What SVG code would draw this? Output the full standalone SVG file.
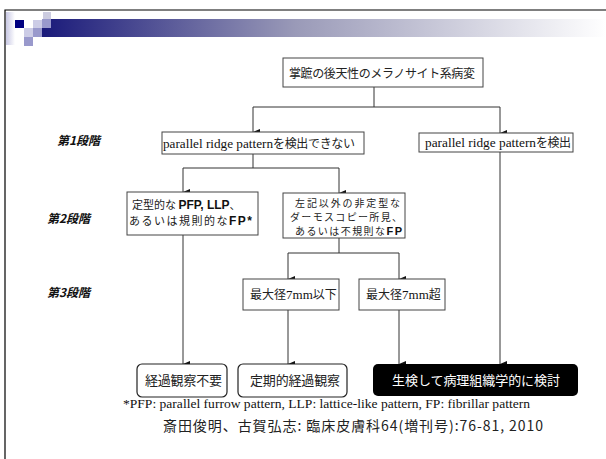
<svg xmlns="http://www.w3.org/2000/svg" width="606" height="459" viewBox="0 0 606 459">
<defs>
<linearGradient id="bar" x1="0" y1="0" x2="1" y2="0">
<stop offset="0" stop-color="#1a1a7a"/>
<stop offset="0.45" stop-color="#9a9ab8"/>
<stop offset="1" stop-color="#ffffff"/>
</linearGradient>
<linearGradient id="strip" x1="0" y1="0" x2="1" y2="0">
<stop offset="0" stop-color="#c8c8e4"/>
<stop offset="1" stop-color="#ffffff"/>
</linearGradient>
<marker id="ah" viewBox="0 0 6 7" refX="3" refY="7" markerWidth="6" markerHeight="7" orient="auto-start-reverse" markerUnits="userSpaceOnUse">
<path d="M0,0 L6,0 L3,7 Z" fill="#111"/>
</marker>
</defs>
<style>
.box{fill:#fff;stroke:#444;stroke-width:1}
.rbox{fill:#fff;stroke:#222;stroke-width:1.2}
.ln{fill:none;stroke:#333;stroke-width:1}
.arr{fill:none;stroke:#333;stroke-width:1;marker-end:url(#ah)}
.jp{font-family:"Noto Sans CJK JP","Liberation Sans",sans-serif;fill:#222}
.se{font-family:"Liberation Serif","Noto Sans CJK JP",serif;fill:#111}
.sa{font-family:"Liberation Sans","Noto Sans CJK JP",sans-serif;fill:#111}
.stg{font-family:"Noto Sans CJK JP",sans-serif;font-weight:bold;font-style:italic;font-size:12px;fill:#111}
</style>
<rect width="606" height="459" fill="#fff"/>
<g id="header">
<rect x="6" y="12" width="9" height="33" fill="url(#strip)"/>
<rect x="42" y="19" width="564" height="18" fill="url(#bar)"/>
<rect x="15" y="20" width="9" height="8" fill="#000080"/>
<rect x="33" y="20" width="9" height="8" fill="#ccccE6"/>
<rect x="43" y="12" width="8" height="7" fill="#ccccE0"/>
<rect x="42" y="19" width="9" height="9" fill="#9999cc"/>
<rect x="24" y="28" width="9" height="9" fill="#ccccE6"/>
<rect x="33" y="28" width="9" height="9" fill="#9999cc"/>
<rect x="24" y="37" width="9" height="9" fill="#9999cc"/>
<path d="M5,459 V10 H606" fill="none" stroke="#000" stroke-width="1.2"/>
</g>
<g id="stage-labels">
<text class="stg" x="57" y="145">第1段階</text>
<text class="stg" x="47" y="223">第2段階</text>
<text class="stg" x="47" y="297">第3段階</text>
</g>
<g id="connectors">
<path class="ln" d="M374,87 V107 M253,107 H500"/>
<path class="arr" d="M253,107 V132"/>
<path class="arr" d="M500,107 V133"/>
<path class="ln" d="M253,154 V168 M183,168 H339"/>
<path class="arr" d="M183,168 V192"/>
<path class="arr" d="M339,168 V193"/>
<path class="arr" d="M183,235 V364"/>
<path class="ln" d="M339,238 V253 M288,253 H399"/>
<path class="arr" d="M288,253 V279"/>
<path class="arr" d="M399,253 V279"/>
<path class="arr" d="M288,310 V364"/>
<path class="arr" d="M399,310 V364"/>
<path class="arr" d="M500,152 V364"/>
</g>
<g id="n-top">
<rect class="box" x="283" y="58" width="200" height="29"/>
<text class="jp" x="289" y="78" font-size="12" textLength="186" lengthAdjust="spacing">掌蹠の後天性のメラノサイト系病変</text>
</g>
<g id="n-notdetect">
<rect class="box" x="162" y="132" width="202" height="22"/>
<text class="se" x="163" y="148" font-size="13" textLength="110" lengthAdjust="spacingAndGlyphs">parallel ridge pattern</text>
<text class="jp" x="273" y="148" font-size="12" textLength="82" lengthAdjust="spacing">を検出できない</text>
</g>
<g id="n-detect">
<rect class="box" x="419" y="133" width="154" height="19"/>
<text class="se" x="425" y="147" font-size="13" textLength="111" lengthAdjust="spacingAndGlyphs">parallel ridge pattern</text>
<text class="jp" x="536" y="147" font-size="12" textLength="35" lengthAdjust="spacing">を検出</text>
</g>
<g id="n-typical">
<rect class="box" x="127" y="192" width="131" height="43"/>
<text class="jp" x="132" y="209" font-size="11">定型的な <tspan class="sa" font-weight="bold" font-size="12">PFP, LLP</tspan>、</text>
<text class="jp" x="129" y="225" font-size="11" textLength="123" lengthAdjust="spacing">あるいは規則的な<tspan class="sa" font-weight="bold" font-size="12">FP*</tspan></text>
</g>
<g id="n-atypical">
<rect class="box" x="283" y="193" width="122" height="45"/>
<text class="jp" x="295" y="207" font-size="10" textLength="105" lengthAdjust="spacing">左記以外の非定型な</text>
<text class="jp" x="290" y="221" font-size="10" textLength="112" lengthAdjust="spacing">ダーモスコピー所見、</text>
<text class="jp" x="295" y="235" font-size="10" textLength="107" lengthAdjust="spacing">あるいは不規則な<tspan class="sa" font-weight="bold" font-size="11">FP</tspan></text>
</g>
<g id="n-le7">
<rect class="box" x="243" y="279" width="96" height="31"/>
<text class="jp" x="250" y="299" font-size="12">最大径<tspan class="se" font-size="13">7mm</tspan>以下</text>
</g>
<g id="n-gt7">
<rect class="box" x="359" y="279" width="86" height="31"/>
<text class="jp" x="366" y="299" font-size="12">最大径<tspan class="se" font-size="13">7mm</tspan>超</text>
</g>
<g id="n-nofollow">
<rect class="rbox" x="137" y="364" width="90" height="33" rx="5"/>
<text class="jp" x="145" y="385" font-size="13" textLength="77" lengthAdjust="spacing">経過観察不要</text>
</g>
<g id="n-follow">
<rect class="rbox" x="238" y="364" width="109" height="33" rx="5"/>
<text class="jp" x="250" y="385" font-size="13" textLength="90" lengthAdjust="spacing">定期的経過観察</text>
</g>
<g id="n-biopsy">
<rect x="373" y="364" width="205" height="32" rx="5" fill="#000"/>
<text class="jp" x="392" y="385" font-size="13" textLength="168" lengthAdjust="spacing" style="fill:#fff">生検して病理組織学的に検討</text>
</g>
<g id="footnote">
<text class="se" x="123" y="408" font-size="13" textLength="407" lengthAdjust="spacingAndGlyphs">*PFP: parallel furrow pattern, LLP: lattice-like pattern, FP: fibrillar pattern</text>
<text class="jp" x="163" y="431" font-size="14" textLength="380" lengthAdjust="spacing">斎田俊明、古賀弘志: 臨床皮膚科64(増刊号):76-81, 2010</text>
</g>
</svg>
